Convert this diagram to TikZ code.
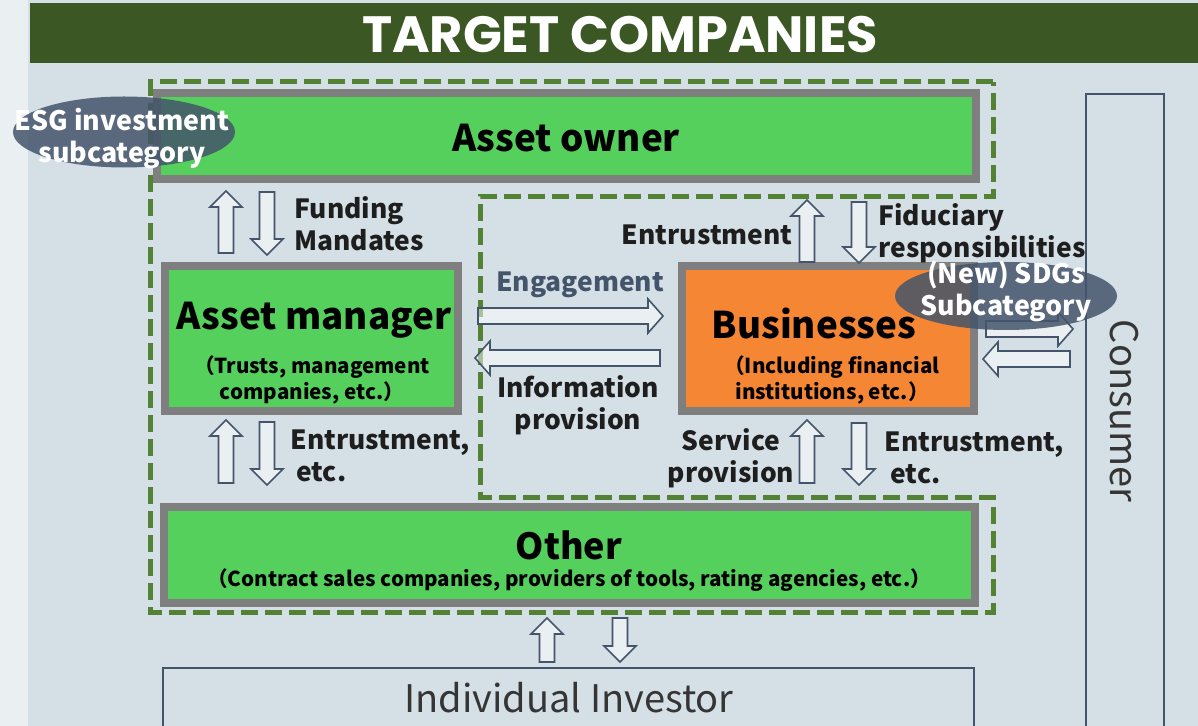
\documentclass[tikz,border=0pt]{standalone}
\usepackage{fontspec}
\setmainfont{Noto Sans CJK JP}
\newfontfamily\titlefont{Poppins}
\usetikzlibrary{shapes.geometric}
\definecolor{bargreen}{HTML}{3A5724}
\definecolor{boxgreen}{HTML}{55D05C}
\definecolor{boxgray}{HTML}{7F7F7F}
\definecolor{boxorange}{HTML}{F58634}
\definecolor{dashgreen}{HTML}{548235}
\definecolor{slate}{HTML}{44546A}
\definecolor{bgcol}{HTML}{D5DFE6}
\definecolor{txt}{HTML}{1E1E1E}
\tikzset{
  box/.style={draw=boxgray, line width=4pt, fill=boxgreen, rectangle, inner sep=0pt, outer sep=0pt},
  thinbox/.style={draw=slate, line width=1pt, rectangle, inner sep=0pt, outer sep=0pt},
  bigtitle/.style={font=\bfseries\fontsize{18.4}{22}\selectfont, text=black, inner sep=0pt},
  sub/.style={font=\bfseries\fontsize{10.3}{13}\selectfont, text=black, align=center, inner sep=0pt},
  lbl/.style={font=\bfseries\fontsize{13.2}{16}\selectfont, text=txt, align=left, inner sep=0pt},
  blk/.style={draw=slate, line width=0.8pt, fill=white, fill opacity=0.5, line join=miter},
  bubble/.style={ellipse, fill=slate, fill opacity=0.85, inner sep=0pt, minimum width=111pt, minimum height=35.5pt},
  bubtxt/.style={font=\bfseries\fontsize{13.4}{16}\selectfont, text=white, align=center, inner sep=0pt}
}
\newcommand\blkup[3]{\draw[blk] (#1-7.5,#3) -- (#1-7.5,#2+16) -- (#1-16,#2+16) -- (#1,#2) -- (#1+16,#2+16) -- (#1+7.5,#2+16) -- (#1+7.5,#3) -- cycle;}
\newcommand\blkdown[3]{\draw[blk] (#1-7.5,#2) -- (#1-7.5,#3-16) -- (#1-16,#3-16) -- (#1,#3) -- (#1+16,#3-16) -- (#1+7.5,#3-16) -- (#1+7.5,#2) -- cycle;}
\newcommand\blkright[3]{\draw[blk] (#2,#1-8) -- (#3-15,#1-8) -- (#3-15,#1-17) -- (#3,#1) -- (#3-15,#1+17) -- (#3-15,#1+8) -- (#2,#1+8) -- cycle;}
\newcommand\blkleft[3]{\draw[blk] (#2,#1-8) -- (#3+15,#1-8) -- (#3+15,#1-17) -- (#3,#1) -- (#3+15,#1+17) -- (#3+15,#1+8) -- (#2,#1+8) -- cycle;}
\begin{document}
\begin{tikzpicture}[x=0.5pt,y=-0.5pt]
\useasboundingbox (0,0) rectangle (1198,726);
\fill[bgcol] (0,0) rectangle (1198,726);
\fill[white, opacity=0.5] (0,0) rectangle (28,726);
% title bar
\fill[bargreen] (30,3) rectangle (1198,63);
\node[font=\titlefont\bfseries\fontsize{25.5}{30}\selectfont, text=white, inner sep=0pt] (title) at (620,35) {TARGET COMPANIES};
% dashed frame
\draw[dashgreen, line width=2.5pt, dash pattern=on 8.5pt off 3.5pt]
  (993,82) -- (150,82) -- (150,612) -- (993,612) -- (993,497) -- (480,497) -- (480,197) -- (993,197) -- cycle;
% boxes
\node[box, minimum width=409.5pt, minimum height=43pt] (owner) at (566.5,136) {};
\node[bigtitle] (ownerT) at (566,138) {Asset owner};
\node[box, minimum width=146.5pt, minimum height=72.5pt] (mgr) at (311.5,338.5) {};
\node[bigtitle] (mgrT) at (314,320) {Asset manager};
\node[sub] (mgrS) at (312,380) {（Trusts, management\\companies, etc.）};
\node[box, fill=boxorange, minimum width=146pt, minimum height=72.5pt] (bus) at (828,338.5) {};
\node[bigtitle] (busT) at (814,323) {Businesses};
\node[sub] (busS) at (832,380) {（Including financial\\institutions, etc.）};
\node[box, minimum width=405.5pt, minimum height=48pt] (other) at (569.5,555) {};
\node[bigtitle, font=\bfseries\fontsize{18}{22}\selectfont] (otherT) at (569,545) {Other};
\node[sub] (otherS) at (569,580) {（Contract sales companies, providers of tools, rating agencies, etc.）};
\node[thinbox, minimum width=405.5pt, minimum height=32pt] (indiv) at (568.5,700) {};
\node[font=\fontsize{19}{22}\selectfont, text=txt!90, inner sep=0pt] (indivT) at (569,698) {Individual Investor};
\node[thinbox, minimum width=39pt, minimum height=322.5pt] (cons) at (1125,417) {};
\node[font=\fontsize{19}{22}\selectfont, text=txt!90, inner sep=0pt, rotate=-90] (consT) at (1124,411) {Consumer};
% block arrows
\blkup{226}{191}{253} \blkdown{267}{192}{255}
\blkup{226}{420}{483} \blkdown{267}{422}{485}
\blkup{807}{200}{262} \blkdown{859}{202}{263}
\blkup{807}{420}{483} \blkdown{859}{423}{485}
\blkup{547}{618}{662} \blkdown{620}{618}{662}
\blkright{316}{478}{663} \blkleft{358}{660}{475}
\blkright{329}{986}{1073} \blkleft{359}{1070}{983}
% labels
\node[lbl, anchor=west] (fund) at (294,224) {Funding\\Mandates};
\node[lbl, anchor=west] (entA) at (290,456) {Entrustment,\\\hspace{3pt}etc.};
\node[lbl, text=slate] (eng) at (580,285) {Engagement};
\node[lbl, align=center] (info) at (578,405) {Information\\provision};
\node[lbl, anchor=east] (entB) at (793,235) {Entrustment};
\node[lbl, anchor=west] (fid) at (878,233) {Fiduciary\\responsibilities};
\node[lbl, align=center] (serv) at (731,458) {Service\\provision};
\node[lbl, anchor=west] (entC) at (884,458) {Entrustment,\\\hspace{3pt}etc.};
% bubbles
\node[bubble] (esg) at (124,132) {};
\node[bubtxt] (esgT) at (122,139) {ESG investment\\subcategory};
\node[bubble, minimum height=34pt] (sdg) at (1006,296) {};
\node[bubtxt] (sdgT) at (1006,291) {(New) SDGs\\Subcategory};
\end{tikzpicture}
\end{document}
